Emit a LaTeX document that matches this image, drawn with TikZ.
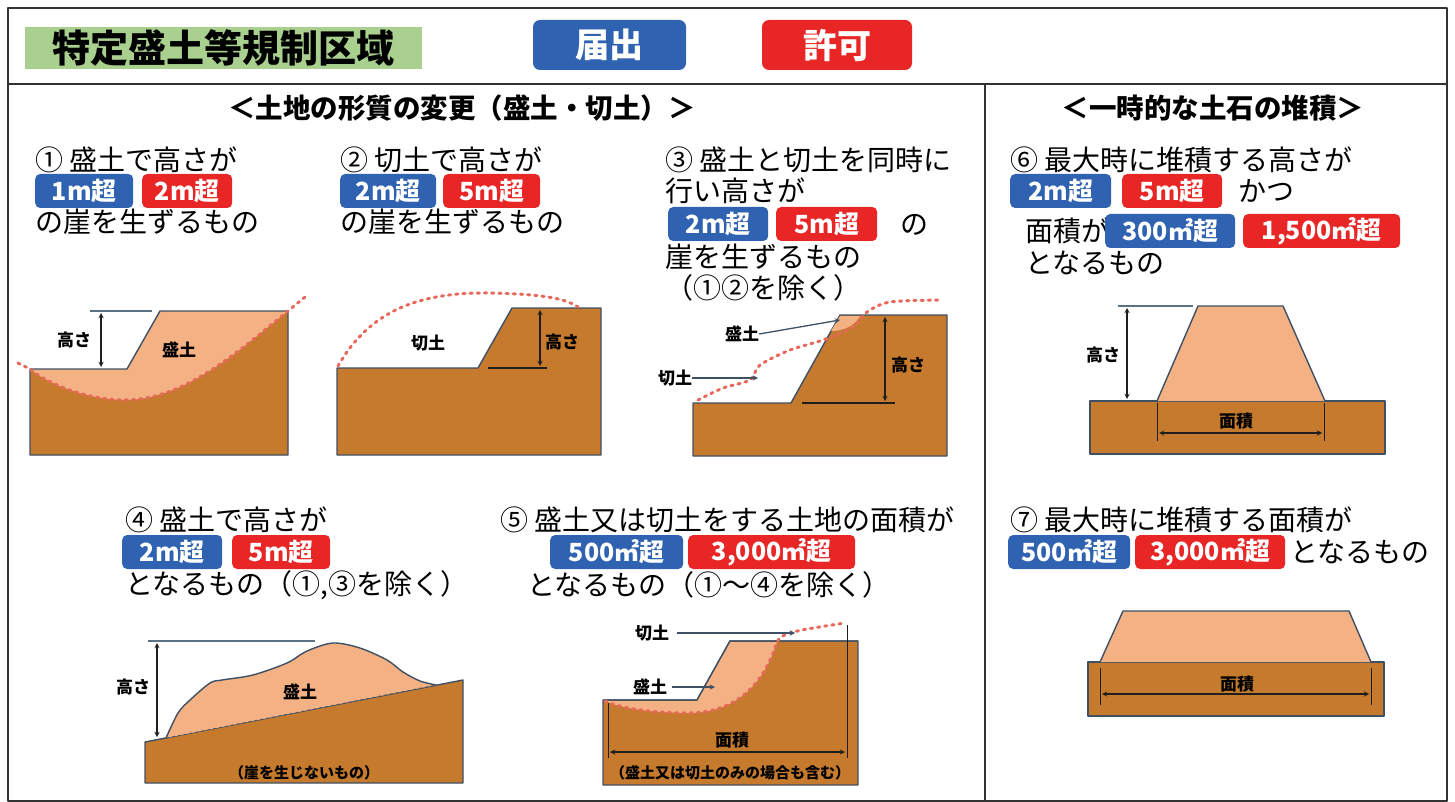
\documentclass[tikz,border=0pt]{standalone}
\usepackage{fontspec}
\newfontfamily\jp{Noto Sans CJK JP}
\definecolor{soilc}{HTML}{C57A2D}
\definecolor{bankc}{HTML}{F4B183}
\definecolor{edge}{HTML}{3E5064}
\definecolor{extc}{HTML}{5B7285}
\definecolor{dimc}{HTML}{1E1E1E}
\definecolor{cutc}{HTML}{E8695C}
\definecolor{bluetag}{HTML}{2F62B0}
\definecolor{redtag}{HTML}{E82626}
\definecolor{kuiki}{HTML}{A9D08E}
\begin{document}
\begin{tikzpicture}[x=1pt, y=-1pt, line join=round, >=stealth,
  txt/.style={anchor=west, inner sep=0pt, font=\jp\fontsize{28}{28}\selectfont},
  head/.style={inner sep=0pt, font=\jp\bfseries\fontsize{27.5}{27.5}\selectfont},
  lbl/.style={inner sep=0pt, font=\jp\bfseries\fontsize{17}{17}\selectfont},
  note/.style={inner sep=0pt, font=\jp\bfseries\fontsize{15}{15}\selectfont},
  tag/.style={anchor=west, rounded corners=5pt, text=white, inner sep=0pt, minimum height=34,
    font=\jp\bfseries\fontsize{25}{25}\selectfont},
  todoke/.style={tag, fill=bluetag},
  kyoka/.style={tag, fill=redtag},
  soil/.style={fill=soilc, draw=edge, line width=1.4pt},
  bank/.style={fill=bankc, draw=edge, line width=1.4pt},
  cut/.style={draw=cutc, line width=3pt, line cap=round, dash pattern=on 2.2pt off 5pt},
  dim/.style={<->, line width=1.3pt, draw=dimc},
  ext/.style={line width=1.4pt, draw=extc},
  lead/.style={->, line width=1.3pt, draw=edge}]
 \useasboundingbox (0,0) rectangle (1455,802);
 % frame
 \draw[line width=2.2pt, draw=black!80] (8,8) rectangle (1447,801);
 \draw[line width=2.2pt, draw=black!80] (8,84) -- (1447,84);
 \draw[line width=2.2pt, draw=black!80] (985,84) -- (985,801);
 % header
 \node[fill=kuiki, minimum width=397, minimum height=42, inner sep=0pt,
   font=\jp\bfseries\fontsize{38}{38}\selectfont] (title) at (223.5,48) {特定盛土等規制区域};
 \node[fill=bluetag, rounded corners=7pt, text=white, minimum width=153, minimum height=50, inner sep=0pt,
   font=\jp\bfseries\fontsize{34}{34}\selectfont] (todoke) at (609.5,45) {届出};
 \node[fill=redtag, rounded corners=7pt, text=white, minimum width=150, minimum height=50, inner sep=0pt,
   font=\jp\bfseries\fontsize{34}{34}\selectfont] (kyoka) at (837,45) {許可};
 \node[head] (sec1) at (462,108) {＜土地の形質の変更（盛土・切土）＞};
 \node[head] (sec2) at (1213,108) {＜一時的な土石の堆積＞};

 % conditions
 \node[txt] (c1) at (35,160) {① 盛土で高さが};
 \node[txt] (c1b) at (35,222) {の崖を生ずるもの};
 \node[txt] (c2) at (340,160) {② 切土で高さが};
 \node[txt] (c2b) at (340,222) {の崖を生ずるもの};
 \node[txt] (c3) at (665,160) {③ 盛土と切土を同時に};
 \node[txt] (c3a) at (665,191) {行い高さが};
 \node[txt] (c3b) at (900,225) {の};
 \node[txt] (c3c) at (665,257) {崖を生ずるもの};
 \node[txt] (c3d) at (665,288) {（①②を除く）};
 \node[txt] (c6) at (1010,160) {⑥ 最大時に堆積する高さが};
 \node[txt] (c6a) at (1238,191) {かつ};
 \node[txt] (c6b) at (1025,231) {面積が};
 \node[txt] (c6c) at (1025,263) {となるもの};
 \node[txt] (c4) at (125,520) {④ 盛土で高さが};
 \node[txt] (c4a) at (125,585) {となるもの（①,③を除く）};
 \node[txt] (c5) at (500,520) {⑤ 盛土又は切土をする土地の面積が};
 \node[txt] (c5a) at (527,585) {となるもの（①～④を除く）};
 \node[txt] (c7) at (1010,520) {⑦ 最大時に堆積する面積が};
 \node[txt] (c7a) at (1290,552) {となるもの};
 \foreach \x/\y/\w/\t in {35/191/98/1m超, 340/191/96/2m超, 668/224/100/2m超, 1010/191/101/2m超,
   1105/231/130/300㎡超, 122/552/100/2m超, 550/552/133/500㎡超, 1008/552/122/500㎡超}
   \node[todoke, minimum width=\w] (bl-\x-\y) at (\x,\y) {\t};
 \foreach \x/\y/\w/\t in {142/191/90/2m超, 443/191/97/5m超, 776/224/101/5m超, 1122/191/100/5m超,
   1243/231/157/{1,500㎡超}, 232/552/98/5m超, 688/552/167/{3,000㎡超}, 1135/552/150/{3,000㎡超}}
   \node[kyoka, minimum width=\w] (rd-\x-\y) at (\x,\y) {\t};

 % (1) fill
 \fill[bankc] (30,369) -- (127,369) -- (160,311) -- (288,311) -- (288,455) -- (30,455) -- cycle;
 \fill[soilc] (30,369) .. controls (45,382) and (85,400) .. (125,400) .. controls (185,400) and (240,350) .. (288,311) -- (288,455) -- (30,455) -- cycle;
 \draw[edge, line width=1.4pt] (30,369) -- (127,369) -- (160,311) -- (288,311) -- (288,455) -- (30,455) -- cycle;
 \draw[cut] (18,363) -- (30,369) .. controls (45,382) and (85,400) .. (125,400) .. controls (185,400) and (240,350) .. (288,311) -- (305,297);
 \draw[ext] (90,311) -- (152,311);
 \draw[dim] (101,313) -- (101,367);
 \node[lbl] (h1) at (74,340) {高さ};
 \node[lbl] (m1) at (179,350) {盛土};

 % (2) cut
 \draw[soil] (337,368) -- (478,368) -- (512,308) -- (601,308) -- (601,455) -- (337,455) -- cycle;
 \draw[cut] (338,366) .. controls (370,310) and (420,292) .. (490,293) .. controls (540,294) and (565,298) .. (578,307);
 \draw[dimc, line width=1.4pt] (488,368) -- (547,368);
 \draw[dim] (540,310) -- (540,366);
 \node[lbl] (k2) at (428,343) {切土};
 \node[lbl] (h2) at (562,342) {高さ};

 % (3) fill and cut
 \draw[soil] (693,403) -- (791,403) -- (840,315) -- (947,315) -- (947,456) -- (693,456) -- cycle;
 \fill[bankc] (840,316) -- (860,316) .. controls (855,325) and (845,331) .. (831,331) -- cycle;
 \draw[cut] plot[smooth] coordinates {(698,400) (723,388) (750,380) (760,365) (790,350) (823,340) (853,327) (867,312) (890,302) (940,300)};
 \draw[dimc, line width=1.4pt] (802,403) -- (895,403);
 \draw[dim] (885,317) -- (885,401);
 \node[lbl] (h3) at (908,365) {高さ};
 \node[lbl] (m3) at (742,334) {盛土};
 \node[lbl] (k3) at (675,378) {切土};
 \coordinate (m3e) at (840,320);
 \coordinate (k3e) at (758,378);
 \draw[lead] (m3.east) -- (m3e);
 \draw[lead] (k3.east) -- (k3e);

 % (4) slope without cliff
 \draw[soil] (145,742) -- (463,680) -- (463,783) -- (145,783) -- cycle;
 \fill[bankc] plot[smooth] coordinates {(166,738) (178,713) (190,700) (210,683) (222,680) (253,675) (287,663) (307,651) (333,643) (360,648) (387,660) (403,672) (420,681) (436,685)} -- cycle;
 \draw[edge, line width=1.4pt] plot[smooth] coordinates {(166,738) (178,713) (190,700) (210,683) (222,680) (253,675) (287,663) (307,651) (333,643) (360,648) (387,660) (403,672) (420,681) (436,685)};
 \draw[edge, line width=0.6pt, dashed] (166,738) -- (436,685);
 \draw[ext] (148,641) -- (315,641);
 \draw[dim] (157,643) -- (157,737);
 \node[lbl] (h4) at (133,687) {高さ};
 \node[lbl] (m4) at (300,692) {盛土};
 \node[note] (n4) at (304,773) {（崖を生じないもの）};

 % (5) area
 \draw[soil] (603,700) -- (697,700) -- (730,641) -- (858,641) -- (858,785) -- (603,785) -- cycle;
 \fill[bankc] (605,701) -- (697,701) -- (730,642) -- (777,642) .. controls (765,680) and (740,712) .. (690,713) .. controls (650,713) and (620,708) .. (605,701) -- cycle;
 \draw[edge, line width=1.4pt] (603,700) -- (697,700) -- (730,641) -- (858,641);
 \draw[cut] (605,701) .. controls (620,708) and (650,713) .. (690,713) .. controls (740,712) and (765,680) .. (777,642) .. controls (781,632) and (800,630) .. (845,623);
 \draw[dimc, line width=1pt] (608,703) -- (608,758);
 \draw[dimc, line width=1pt] (847,625) -- (847,758);
 \draw[dim] (610,752) -- (845,752);
 \node[lbl] (a5) at (732,740) {面積};
 \node[note] (n5) at (730,773) {（盛土又は切土のみの場合も含む）};
 \node[lbl] (k5) at (652,633) {切土};
 \node[lbl] (m5) at (650,687) {盛土};
 \coordinate (k5e) at (795,633);
 \coordinate (m5e) at (715,687);
 \draw[lead] ([xshift=8pt]k5.east) -- (k5e);
 \draw[lead] ([xshift=5pt]m5.east) -- (m5e);

 % (6) temporary pile, height
 \draw[soil] (1090,401) rectangle (1385,454);
 \draw[bank] (1157,401) -- (1198,306) -- (1283,306) -- (1325,401);
 \draw[ext] (1118,306) -- (1193,306);
 \draw[dim] (1127,308) -- (1127,399);
 \draw[dimc, line width=1pt] (1157,403) -- (1157,441);
 \draw[dimc, line width=1pt] (1324,403) -- (1324,441);
 \draw[dim] (1159,433) -- (1322,433);
 \node[lbl] (h6) at (1103,355) {高さ};
 \node[lbl] (a6) at (1236,421) {面積};

 % (7) temporary pile, area
 \draw[soil] (1088,662) rectangle (1384,716);
 \draw[bank] (1100,662) -- (1123,611) -- (1349,611) -- (1371,662);
 \draw[dimc, line width=1pt] (1100,668) -- (1100,705);
 \draw[dimc, line width=1pt] (1371,668) -- (1371,705);
 \draw[dim] (1102,694) -- (1369,694);
 \node[lbl] (a7) at (1237,684) {面積};
\end{tikzpicture}
\end{document}
